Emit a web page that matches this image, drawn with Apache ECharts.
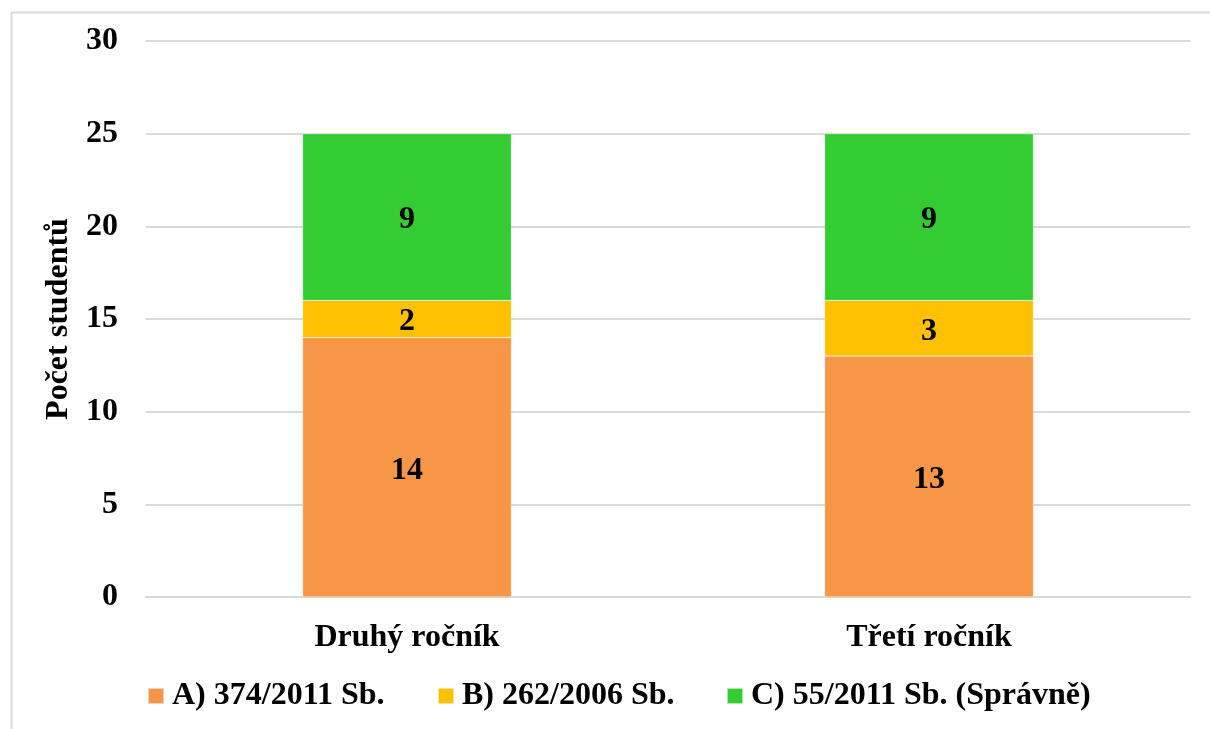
<!DOCTYPE html>
<html>
<head>
<meta charset="utf-8">
<script src="https://cdn.jsdelivr.net/npm/echarts@6/dist/echarts.min.js"></script>
<style>
  html, body { margin: 0; padding: 0; background: #fff; }
  #chart { width: 1210px; height: 729px; }
</style>
</head>
<body>
<div id="chart"></div>
<script>
// Categories (study year) and stacked counts per answer
const categories = ['Druhý ročník', 'Třetí ročník'];
const seriesNames = ['A) 374/2011 Sb.', 'B) 262/2006 Sb.', 'C) 55/2011 Sb. (Správně)'];
const valuesA = [14, 13];
const valuesB = [2, 3];
const valuesC = [9, 9];
const yTicks = { min: 0, max: 30, interval: 5 };
const yAxisTitle = 'Počet studentů';

const FONT = '"Liberation Serif", "Times New Roman", serif';
const FS = 32;
const colors = ['#F79646', '#FFC000', '#33CC33'];
const allValues = [valuesA, valuesB, valuesC];

const chart = echarts.init(document.getElementById('chart'), null, { renderer: 'canvas' });

const series = seriesNames.map((name, i) => ({
  name: name,
  type: 'bar',
  stack: 'total',
  barWidth: '40%',
  data: allValues[i],
  itemStyle: { color: colors[i], borderColor: 'rgba(255,255,255,0.6)', borderWidth: 0.5 },
  label: {
    show: true,
    position: 'inside',
    offset: [0, 3],
    color: '#000',
    fontFamily: FONT,
    fontWeight: 'bold',
    fontSize: FS
  }
}));

const legendLefts = [142, 432, 721];
const legends = seriesNames.map((name, i) => ({
  data: [name],
  left: legendLefts[i],
  top: 675,
  itemWidth: 16,
  itemHeight: 16,
  itemGap: 0,
  icon: 'rect',
  textStyle: { fontFamily: FONT, fontWeight: 'bold', fontSize: FS, color: '#000', padding: [0, 0, 0, 3] }
}));

chart.setOption({
  animation: false,
  backgroundColor: '#fff',
  graphic: [{
    type: 'rect',
    left: 9, top: 10,
    shape: { x: 0, y: 0, width: 1220, height: 740 },
    style: { fill: 'none', stroke: '#d9d9d9', lineWidth: 2 },
    silent: true,
    z: -1
  }],
  grid: { left: 146, right: 20, top: 41, bottom: 132, containLabel: false },
  legend: legends,
  xAxis: {
    type: 'category',
    data: categories,
    axisLine: { show: true, lineStyle: { color: '#d9d9d9', width: 2 } },
    axisTick: { show: false },
    axisLabel: { color: '#000', fontFamily: FONT, fontWeight: 'bold', fontSize: FS, margin: 25 }
  },
  yAxis: {
    type: 'value',
    min: yTicks.min,
    max: yTicks.max,
    interval: yTicks.interval,
    name: yAxisTitle,
    nameLocation: 'middle',
    nameGap: 69,
    nameRotate: 90,
    nameTextStyle: { color: '#000', fontFamily: FONT, fontWeight: 'bold', fontSize: FS },
    axisLine: { show: false },
    axisTick: { show: false },
    axisLabel: { color: '#000', fontFamily: FONT, fontWeight: 'bold', fontSize: FS, margin: 28 },
    splitLine: { lineStyle: { color: '#d9d9d9', width: 2 } }
  },
  series: series
});
</script>
</body>
</html>
